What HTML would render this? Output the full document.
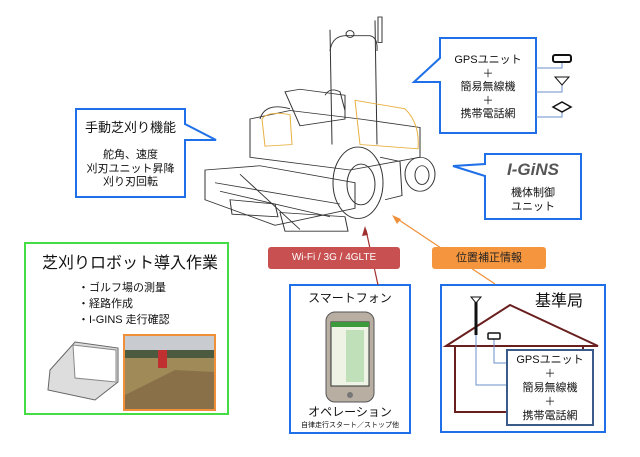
<!DOCTYPE html>
<html><head><meta charset="utf-8"><style>
body{margin:0;width:640px;height:457px;background:#fff;overflow:hidden;position:relative;font-family:"Liberation Sans","Noto Sans CJK JP",sans-serif;color:#111}
.a{position:absolute;line-height:1.2}
.c{text-align:center}
</style></head><body>
<svg class="a" style="left:0;top:0" width="640" height="457">
<g fill="none" stroke="#333" stroke-width="1" transform="scale(1,0.85)">
<path d="M330 35 L332 170 M375 24 L377 170"/>
<path d="M330 60 Q332 40 350 42 L370 42 Q378 44 377 60"/>
<rect x="378" y="20" width="4" height="30"/>
<circle cx="350" cy="40" r="4"/>
<path d="M285 108 L300 105 L345 112 L345 140 L300 148 Z"/>
<path d="M325 112 Q330 102 340 108 L345 130"/>
<path d="M250 140 L290 130 L360 140 L420 150 L420 185 L350 200 L250 185 Z"/>
<path d="M260 140 Q265 120 290 128"/>
<path d="M355 118 L405 128 Q420 145 418 175 L360 170 Z" stroke="#e8b040"/>
<path d="M262 140 Q268 130 290 135 L292 170 L265 172 Z" stroke="#e8b040"/>
<path d="M205 200 L260 195 L355 215 L355 245 L275 265 L205 235 Z"/>
<path d="M215 215 L340 240 M220 225 L330 255 M240 205 L300 270"/>
<path d="M280 250 L345 255 L348 272 L285 272 Z"/>
<path d="M230 235 L275 240 L278 255 L232 252 Z"/>
<ellipse cx="358" cy="215" rx="25" ry="42"/>
<ellipse cx="361" cy="217" rx="14" ry="24"/>
<ellipse cx="420" cy="205" rx="15" ry="20"/>
<ellipse cx="422" cy="206" rx="7" ry="11"/>
<path d="M380 185 L400 190 L402 230 L385 235"/>
</g>
<g fill="#fff" stroke="#1f6fe8" stroke-width="2">
<path d="M76 109 L185 109 L185 124 L216 140 L185 140 L185 197 L76 197 Z"/>
<path d="M440 38 L536 38 L536 133 L440 133 L440 82 L414 82 L440 58 Z"/>
<path d="M485 154 L581 154 L581 219 L485 219 L485 176 L453 166 L485 164 Z"/>
<rect x="290" y="285" width="120" height="148"/>
<rect x="441" y="285" width="164" height="147"/>
</g>
<rect x="25" y="243" width="203" height="171" fill="none" stroke="#44dd44" stroke-width="2"/>
<g fill="none" stroke="#6a8fc8" stroke-width="1">
<path d="M536 68 L562 68 L562 62 M536 92 L562 92 L562 85 M536 117 L562 117 L562 111"/>
</g>
<rect x="553" y="55" width="18" height="7" rx="2" fill="#fff" stroke="#111" stroke-width="2"/>
<path d="M555 77 L569 77 L562 85 Z" fill="#fff" stroke="#111"/>
<path d="M553 107 L562 102 L571 107 L562 112 Z" fill="#fff" stroke="#111" stroke-width="1.5"/>
<line x1="378" y1="285" x2="366" y2="230" stroke="#a03030" stroke-width="1.2"/>
<path d="M365 226 L362 236 L368 235 Z" fill="#a03030"/>
<line x1="495" y1="284" x2="396" y2="218" stroke="#f0903a" stroke-width="1.2"/>
<path d="M392 215 L397 224 L401 219 Z" fill="#f0903a"/>
<g fill="none" stroke="#6a1f1f" stroke-width="2">
<path d="M446 346 L510 305 L598 346 Z"/>
<path d="M455 346 L455 412 L507 412 M583 346 L583 350"/>
</g>
<path d="M476 315 L476 385 L507 385" fill="none" stroke="#6a8fc8"/>
<path d="M494 338 L494 363 L507 363" fill="none" stroke="#6a8fc8"/>
<line x1="476" y1="300" x2="476" y2="335" stroke="#111" stroke-width="3"/>
<path d="M471 297 L481 297 L476 303 Z" fill="#fff" stroke="#111"/>
<rect x="488" y="333" width="12" height="6" rx="1" fill="#fff" stroke="#111" stroke-width="1.5"/>
<rect x="507" y="350" width="86" height="75" fill="#fff" stroke="#3a5a8a" stroke-width="2"/>
<rect x="326" y="312" width="48" height="90" rx="9" fill="#b8aea2" stroke="#555"/>
<rect x="331" y="322" width="38" height="64" fill="#eef3e6" stroke="#333"/>
<rect x="346" y="330" width="18" height="52" fill="#bfe0b8"/>
<rect x="331" y="322" width="38" height="5" fill="#3b9a3b"/>
<circle cx="350" cy="395" r="3" fill="#777"/>
<path d="M50 370 L75 342 L118 348 L118 382 L95 400 L48 390 Z" fill="#ddd" stroke="#666"/>
<path d="M73 345 L116 350 L116 382 L75 378 Z" fill="#fff" stroke="#888"/>
<rect x="124" y="335" width="91" height="75" fill="#a08a58" stroke="#f0903a" stroke-width="2"/>
<rect x="125" y="336" width="89" height="18" fill="#c8ccd0"/>
<rect x="125" y="350" width="89" height="8" fill="#4c5a40"/>
<path d="M125 395 L175 370 L214 372 L214 409 L125 409 Z" fill="#8a7048"/>
<rect x="158" y="350" width="9" height="18" fill="#c03030"/>
</svg>
<div class="a c" style="left:76px;top:120px;width:109px;font-size:13px;line-height:16px">手動芝刈り機能</div>
<div class="a c" style="left:76px;top:149px;width:109px;font-size:11px;line-height:13.5px">舵角、速度<br>刈刃ユニット昇降<br>刈り刃回転</div>
<div class="a c" style="left:440px;top:54px;width:96px;font-size:11px;line-height:13.5px">GPSユニット<br>＋<br>簡易無線機<br>＋<br>携帯電話網</div>
<div class="a c" style="left:485px;top:160px;width:96px;font-size:17px;line-height:20px;font-weight:bold;font-style:italic;color:#555">I-GiNS</div>
<div class="a c" style="left:485px;top:186px;width:96px;font-size:11px;line-height:14px">機体制御<br>ユニット</div>
<div class="a c" style="left:268px;top:247px;width:132px;height:22px;background:#c85050;color:#fff;font-size:10px;line-height:22px;border-radius:3px">Wi-Fi / 3G / 4GLTE</div>
<div class="a c" style="left:432px;top:247px;width:114px;height:22px;background:#f5963e;color:#222;font-size:11px;line-height:22px;border-radius:3px">位置補正情報</div>
<div class="a" style="left:42px;top:254px;font-size:16px;line-height:20px">芝刈りロボット導入作業</div>
<div class="a" style="left:78px;top:280px;font-size:11px;line-height:16px">・ゴルフ場の測量<br>・経路作成<br>・I-GINS 走行確認</div>
<div class="a c" style="left:290px;top:291px;width:120px;font-size:12px;line-height:15px">スマートフォン</div>
<div class="a c" style="left:290px;top:405px;width:120px;font-size:12px;line-height:15px">オペレーション</div>
<div class="a c" style="left:290px;top:421px;width:120px;font-size:7px;line-height:9px">自律走行スタート／ストップ他</div>
<div class="a" style="left:535px;top:292px;font-size:16px;line-height:20px">基準局</div>
<div class="a c" style="left:507px;top:353px;width:86px;font-size:11px;line-height:14px">GPSユニット<br>＋<br>簡易無線機<br>＋<br>携帯電話網</div>
</body></html>
